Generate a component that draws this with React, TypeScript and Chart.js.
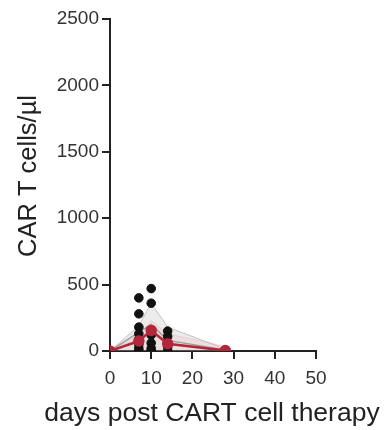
import React, { useEffect, useRef } from "react";
import { Chart, registerables } from "chart.js";

Chart.register(...registerables);

// Time points (days post CART cell therapy)
const days = [0, 7, 10, 14, 28];

// Individual patient values (CAR T cells/µl) per time point
const day0Values = [0, 0, 0, 0, 0];
const day7Values = [400, 280, 180, 130, 90, 50, 20, 0];
const day10Values = [470, 360, 160, 120, 60, 20, 0];
const day14Values = [150, 110, 60, 30, 0];
const day28Values = [0, 0, 0];

// Summary curves
const medianRed = [0, 75, 155, 55, 3];
const meanGray = [0, 140, 200, 80, 8];
const grayUpper = [0, 190, 360, 180, 15];
const redUpper = [0, 110, 230, 130, 35];

// Axis ticks
const xMin = 0;
const xMax = 50;
const xStep = 10;
const yMin = 0;
const yMax = 2500;
const yStep = 500;

const xTitle = "days post CART cell therapy";
const yTitle = "CAR T cells/µl";

const perDay = [day0Values, day7Values, day10Values, day14Values, day28Values];

const toXY = (vals: number[]) => days.map((d, i) => ({ x: d, y: vals[i] }));

const FONT = "'Liberation Sans', Arial, sans-serif";

const axisTitles = {
  id: "axisTitles",
  afterDraw(chart: any) {
    const ctx = chart.ctx;
    const area = chart.chartArea;
    ctx.save();
    ctx.fillStyle = "#222";
    ctx.textAlign = "center";
    ctx.textBaseline = "middle";
    ctx.font = `26.5px ${FONT}`;
    ctx.fillText(xTitle, (area.left + area.right) / 2 - 1, area.bottom + 63);
    ctx.font = `25.5px ${FONT}`;
    ctx.translate(29, area.top + 157);
    ctx.rotate(-Math.PI / 2);
    ctx.fillText(yTitle, 0, 0);
    ctx.restore();
  },
};

export default function App() {
  const ref = useRef<HTMLCanvasElement | null>(null);

  useEffect(() => {
    if (!ref.current) return;
    const scatterPts: { x: number; y: number }[] = [];
    perDay.forEach((vals, i) => vals.forEach((v) => scatterPts.push({ x: days[i], y: v })));

    const chart = new Chart(ref.current, {
      type: "line",
      data: {
        datasets: [
          {
            label: "median",
            data: toXY(medianRed),
            borderColor: "#b2273b",
            backgroundColor: "#b2273b",
            borderWidth: 2.5,
            pointRadius: 4.5,
            pointHoverRadius: 4.5,
            tension: 0,
            order: 0,
          } as any,
          {
            type: "scatter",
            label: "patients",
            data: scatterPts,
            backgroundColor: "#111111",
            borderColor: "#111111",
            pointRadius: 4.3,
            showLine: false,
            order: 1,
          } as any,
          {
            label: "mean",
            data: toXY(meanGray),
            borderColor: "rgba(140,140,140,0.8)",
            borderWidth: 1.5,
            pointRadius: 0,
            tension: 0,
            order: 2,
          },
          {
            label: "red band",
            data: toXY(redUpper),
            borderColor: "rgba(230,140,140,0.25)",
            borderWidth: 1,
            backgroundColor: "rgba(235,150,150,0.15)",
            fill: "origin",
            pointRadius: 0,
            tension: 0,
            order: 3,
          },
          {
            label: "gray band",
            data: toXY(grayUpper),
            borderColor: "rgba(160,160,160,0.6)",
            borderWidth: 1,
            backgroundColor: "rgba(170,170,170,0.22)",
            fill: "origin",
            pointRadius: 0,
            tension: 0,
            order: 4,
          },
        ],
      },
      options: {
        animation: false,
        responsive: false,
        layout: { padding: { top: 19, right: 75, left: 0, bottom: 0 } },
        plugins: { legend: { display: false }, tooltip: { enabled: false } },
        scales: {
          x: {
            type: "linear",
            min: xMin,
            max: xMax,
            ticks: {
              stepSize: xStep,
              color: "#333",
              font: { family: FONT, size: 19 },
              padding: 8,
              callback: (v: any) => String(v),
            },
            grid: { drawOnChartArea: false, drawTicks: true, tickLength: 8, color: "#222", lineWidth: 2 },
            border: { display: true, color: "#222", width: 2 },
            afterFit: (s: any) => { s.height = 79; },
          },
          y: {
            type: "linear",
            min: yMin,
            max: yMax,
            ticks: {
              stepSize: yStep,
              color: "#333",
              font: { family: FONT, size: 19 },
              padding: 3,
              callback: (v: any) => String(v),
            },
            grid: { drawOnChartArea: false, drawTicks: true, tickLength: 8, color: "#222", lineWidth: 2 },
            border: { display: true, color: "#222", width: 2 },
            afterFit: (s: any) => { s.width = 110; },
          },
        },
      },
      plugins: [axisTitles],
    });
    return () => chart.destroy();
  }, []);

  return (
    <div style={{ position: "fixed", left: 0, top: 0, width: 391, height: 430, background: "#fff" }}>
      <canvas ref={ref} width={391} height={430} style={{ display: "block" }} />
    </div>
  );
}
